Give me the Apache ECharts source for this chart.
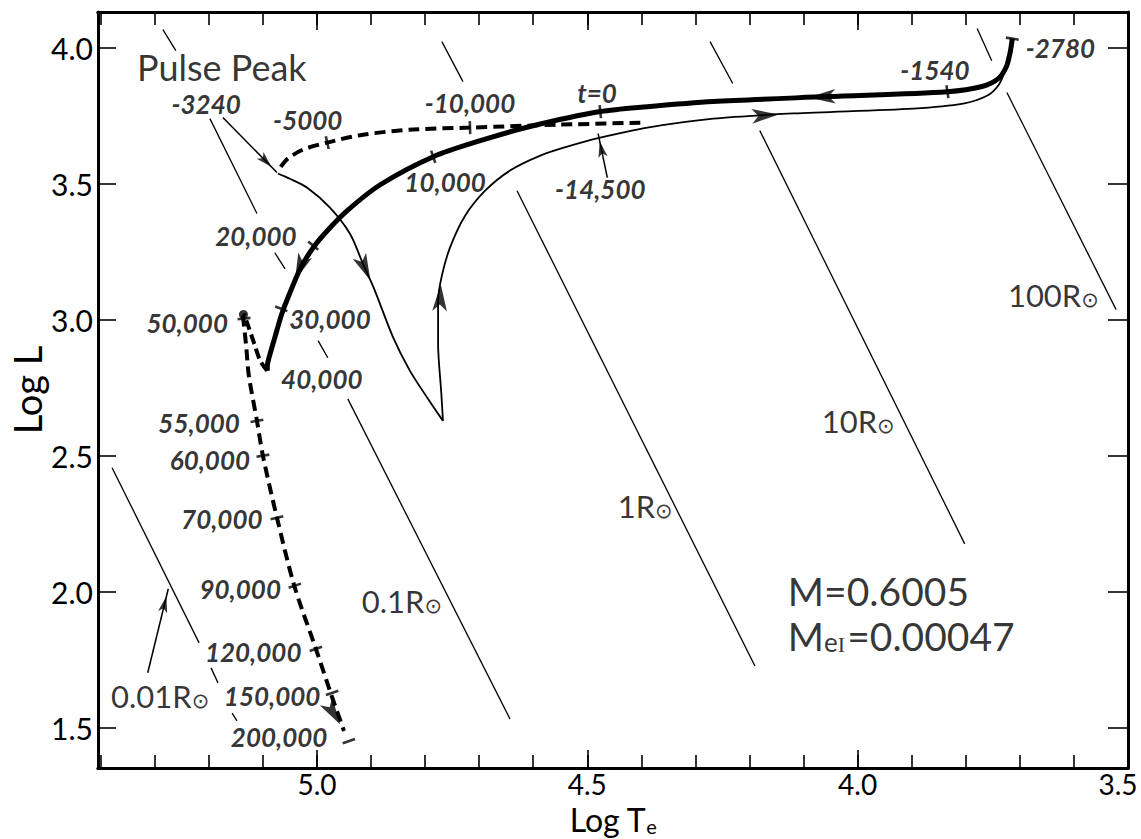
<!DOCTYPE html>
<html>
<head>
<meta charset="utf-8">
<script src="https://cdn.jsdelivr.net/npm/echarts@6/dist/echarts.min.js"></script>
<style>html,body{margin:0;padding:0;background:#fff}#c{width:1141px;height:839px}</style>
</head>
<body>
<div id="c"></div>
<script>
// ---------- axis ticks ----------
const xMinorTickValues = [3.5,3.6,3.7,3.8,3.9,4.0,4.1,4.2,4.3,4.4,4.5,4.6,4.7,4.8,4.9,5.0,5.1,5.2,5.3,5.4];
const xMajorTickValues = [3.5,4.0,4.5,5.0];
const yTickValues = [1.5,2.0,2.5,3.0,3.5,4.0];

// ---------- constant-radius lines (segments, [logTe, logL]) ----------
const radius001 = [[[5.379,2.457],[5.218,1.813]],[[5.196,1.721],[5.183,1.666]],[[5.157,1.555],[5.148,1.526]]];
const radius01  = [[[5.285,4.067],[5.261,3.990]],[[5.198,3.740],[5.111,3.391]],[[5.078,3.247],[5.059,3.188]],[[4.998,2.924],[4.980,2.861]],[[4.943,2.710],[4.643,1.533]]];
const radius1   = [[[4.769,4.023],[4.730,3.876]],[[4.630,3.475],[4.190,1.728]]];
const radius10  = [[[4.273,4.023],[4.231,3.869]],[[4.181,3.696],[3.802,2.177]]];
const radius100 = [[[3.779,4.071],[3.752,3.953]],[[3.724,3.836],[3.522,3.038]]];

// ---------- evolutionary tracks ----------
const thinDescent = [[5.072,3.538],[5.050,3.519],[5.018,3.486],[4.976,3.413],[4.939,3.317],[4.915,3.207],[4.893,3.108],[4.859,2.935],[4.828,2.813],[4.796,2.714],[4.767,2.629]];
const thinAscent = [[4.767,2.629],[4.770,2.729],[4.776,2.913],[4.776,3.071],[4.769,3.163],[4.754,3.266],[4.726,3.383],[4.689,3.475],[4.643,3.549],[4.587,3.604],[4.537,3.637],[4.476,3.670],[4.389,3.707],[4.267,3.740],[4.119,3.759],[3.897,3.777],[3.805,3.795],[3.760,3.825],[3.740,3.862],[3.729,3.909],[3.722,3.972]];
const thickTrack = [[3.714,4.034],[3.718,3.983],[3.725,3.931],[3.740,3.887],[3.770,3.858],[3.834,3.839],[4.056,3.821],[4.267,3.803],[4.389,3.784],[4.476,3.766],[4.606,3.711],[4.698,3.659],[4.785,3.600],[4.883,3.497],[4.944,3.402],[4.981,3.328],[5.007,3.266],[5.031,3.188],[5.050,3.100],[5.065,3.023],[5.078,2.935],[5.091,2.843],[5.092,2.813]];
const dashedApproach = [[4.402,3.725],[4.550,3.718],[4.717,3.707],[4.822,3.700],[4.915,3.681],[4.981,3.652],[5.026,3.626],[5.054,3.593],[5.068,3.560]];
const dashedLoop = [[5.092,2.813],[5.105,2.850],[5.116,2.913],[5.126,2.971],[5.135,3.023]];
const dashedDescent = [[5.137,3.016],[5.131,2.905],[5.126,2.795],[5.111,2.629],[5.100,2.501],[5.074,2.273],[5.042,2.023],[5.002,1.791],[4.974,1.625],[4.950,1.489]];
const loopPoint = [[5.136,3.020]];

// ---------- time ticks on tracks ----------
const approachTicks = [[4.981,3.652],[4.717,3.707]];
const thickTicks = [[3.714,4.034],[3.834,3.839],[4.476,3.766],[4.785,3.600],[5.007,3.273],[5.066,3.041]];
const descentTicks = [[5.135,3.005],[5.111,2.629],[5.100,2.501],[5.074,2.273],[5.041,2.023],[5.002,1.791],[4.972,1.629],[4.941,1.452]];

// ---------- direction arrows [from, tip] ----------
const thinArrows = [[[4.926,3.255],[4.891,3.100]],[[4.774,2.997],[4.770,3.181]],[[4.177,3.751],[4.121,3.759]]];
const thickArrows = [[[4.056,3.821],[4.116,3.816]],[[5.026,3.218],[5.050,3.100]]];
const dashedArrows = [[[4.970,1.555],[4.944,1.471]]];
const pointerArrows = [[[5.174,3.744],[5.074,3.542]],[[4.463,3.523],[4.480,3.685]],[[5.313,1.703],[5.275,2.012]]];

// ---------- labels ----------
const timeLabels = [
  ['-3240',5.205,3.795],['-5000',5.017,3.736],['-10,000',4.717,3.799],['t=0',4.482,3.836],
  ['10,000',4.763,3.508],['-14,500',4.476,3.483],['-1540',3.857,3.917],['-2780',3.625,4.001],
  ['20,000',5.113,3.310],['30,000',4.976,3.005],['40,000',4.991,2.784],['50,000',5.240,2.990],
  ['55,000',5.218,2.622],['60,000',5.198,2.486],['70,000',5.176,2.269],['90,000',5.142,2.012],
  ['120,000',5.118,1.780],['150,000',5.083,1.618],['200,000',5.070,1.467]
];
const radiusLabels = [['0.01',5.290,1.618],['0.1',4.843,1.967],['1',4.393,2.317],['10',3.999,2.629],['100',3.638,3.093]];
const titleLabels = [['Pulse Peak',5.176,3.928]];
const massLabels = [['M','','','=0.6005',4.130,2.004],['M','e','I','=0.00047',4.130,1.839]];

const FONT = 'Lato';
const X_MIN = 3.5, X_MAX = 5.405, Y_MIN = 1.353, Y_MAX = 4.132;

const chart = echarts.init(document.getElementById('c'), null, {renderer: 'svg', width: 1141, height: 839});

function xAxis(position, ticks, len, labels) {
  const ax = {
    type: 'value', position: position, min: X_MIN, max: X_MAX, inverse: true,
    axisLine: {show: true, onZero: false, lineStyle: {color: '#000', width: 3}},
    axisTick: {show: true, inside: true, length: len, customValues: ticks, lineStyle: {color: '#000', width: 1.6}},
    axisLabel: {show: false},
    splitLine: {show: false}
  };
  if (labels) {
    ax.axisLabel = {
      show: true, customValues: xMajorTickValues, margin: 2,
      fontFamily: FONT, fontSize: 28, lineHeight: 28, color: '#000',
      formatter: v => v === 3.5 ? '{e|' + v.toFixed(1) + '}' : v.toFixed(1),
      rich: {e: {fontFamily: FONT, fontSize: 28, lineHeight: 28, color: '#000', padding: [0, 20, 0, 0]}}
    };
    ax.name = '{a|Log T}{b|e}';
    ax.nameLocation = 'middle';
    ax.nameGap = 35.5;
    ax.nameMoveOverlap = false;
    ax.nameTextStyle = {
      rich: {
        a: {fontFamily: FONT, fontSize: 32, lineHeight: 32, color: '#000'},
        b: {fontFamily: FONT, fontSize: 20, lineHeight: 16, color: '#000', verticalAlign: 'bottom'}
      }
    };
  }
  return ax;
}
function yAxis(position, len, labels) {
  const ax = {
    type: 'value', position: position, min: Y_MIN, max: Y_MAX,
    axisLine: {show: true, onZero: false, lineStyle: {color: '#000', width: 3}},
    axisTick: {show: true, inside: true, length: len, customValues: yTickValues, lineStyle: {color: '#000', width: 1.6}},
    axisLabel: {show: false},
    splitLine: {show: false}
  };
  if (labels) {
    ax.axisLabel = {show: true, customValues: yTickValues, margin: 5, fontFamily: FONT, fontSize: 30, color: '#000', formatter: v => v.toFixed(1)};
    ax.name = 'Log L';
    ax.nameLocation = 'middle';
    ax.nameGap = 55;
    ax.nameMoveOverlap = false;
    ax.nameTextStyle = {fontFamily: FONT, fontSize: 38, lineHeight: 32, color: '#000'};
  }
  return ax;
}

function lineSeries(data, width, opts) {
  return Object.assign({
    type: 'line', data: data, symbol: 'none', silent: true, animation: false,
    lineStyle: {color: '#000', width: width, cap: 'butt'}, z: 3
  }, opts || {});
}

function buildSeries(decor) {
  const s = [];
  [radius001, radius01, radius1, radius10, radius100].forEach(r => r.forEach(seg => s.push(lineSeries(seg, 1.3, {z: 2}))));
  s.push(lineSeries(thinDescent, 1.8, {smooth: 0.3}));
  s.push(lineSeries(thinAscent, 1.8, {smooth: 0.3}));
  s.push(lineSeries(thickTrack, 5, {smooth: 0.3, z: 4}));
  s.push(lineSeries(dashedApproach, 4, {smooth: 0.3, lineStyle: {color: '#000', width: 4, type: [11, 6], cap: 'butt'}}));
  s.push(lineSeries(dashedLoop, 4, {smooth: 0.3, lineStyle: {color: '#000', width: 4, type: [10, 5], cap: 'butt'}}));
  s.push(lineSeries(dashedDescent, 4, {smooth: 0.3, lineStyle: {color: '#000', width: 4, type: [11, 6], cap: 'butt'}}));
  pointerArrows.forEach(a => s.push(lineSeries(a, 1.5)));
  s.push({type: 'scatter', data: loopPoint, symbol: 'circle', symbolSize: 9, itemStyle: {color: '#000'}, silent: true, z: 5});
  // ticks and arrowheads
  s.push({type: 'scatter', data: decor.ticks, symbol: 'rect', symbolSize: [2.6, 13], itemStyle: {color: '#000'}, silent: true, z: 5});
  s.push({type: 'scatter', data: decor.bigArrows, symbol: 'arrow', symbolSize: [11, 27], itemStyle: {color: '#000'}, silent: true, z: 6});
  s.push({type: 'scatter', data: decor.smallArrows, symbol: 'arrow', symbolSize: [7, 16], itemStyle: {color: '#000'}, silent: true, z: 6});
  // labels
  const hidden = {color: 'rgba(0,0,0,0)'};
  s.push({type: 'scatter', silent: true, symbolSize: 1, itemStyle: hidden, z: 10,
    data: timeLabels.map(d => ({value: [d[1], d[2]], name: d[0]})),
    label: {show: true, position: 'inside', formatter: '{b}', fontFamily: FONT, fontStyle: 'italic', fontWeight: 'bold', fontSize: 26, lineHeight: 25, color: '#000'}});
  s.push({type: 'scatter', silent: true, symbolSize: 1, itemStyle: hidden, z: 10,
    data: titleLabels.map(d => ({value: [d[1], d[2]], name: d[0]})),
    label: {show: true, position: 'inside', formatter: '{b}', fontFamily: FONT, fontSize: 36, lineHeight: 32, color: '#000'}});
  s.push({type: 'scatter', silent: true, symbolSize: 1, itemStyle: hidden, z: 10,
    data: radiusLabels.map(d => ({value: [d[1], d[2]], name: d[0]})),
    label: {show: true, position: 'inside', formatter: p => '{n|' + p.name + '}{r|R}{s|\u2299}',
      rich: {
        n: {fontFamily: FONT, fontSize: 31, color: '#000'},
        r: {fontFamily: FONT, fontSize: 31, color: '#000'},
        s: {fontFamily: 'DejaVu Sans', fontSize: 21, color: '#000', verticalAlign: 'bottom'}
      }}});
  s.push({type: 'scatter', silent: true, symbolSize: 1, itemStyle: hidden, z: 10,
    data: massLabels.map(d => ({value: [d[4], d[5]], name: d[0] + d[1] + d[2] + d[3]})),
    label: {show: true, position: 'right', distance: 0, align: 'left',
      formatter: p => {
        const d = massLabels[p.dataIndex];
        return '{m|' + d[0] + '}' + (d[1] ? '{s|' + d[1] + '}{si|' + d[2] + '}' : '') + '{m|' + d[3] + '}';
      },
      rich: {
        m: {fontFamily: FONT, fontSize: 39, color: '#000'},
        s: {fontFamily: FONT, fontSize: 26, color: '#000', verticalAlign: 'bottom'},
        si: {fontFamily: 'Liberation Serif', fontSize: 22, color: '#000', verticalAlign: 'bottom', padding: [0, 2, 0, 0]}
      }}});
  return s;
}

function buildOption(decor) {
  return {
    animation: false,
    backgroundColor: '#fff',
    grid: {left: 98, right: 13, top: 12, bottom: 71, containLabel: false, outerBoundsMode: 'none'},
    xAxis: [
      xAxis('bottom', xMinorTickValues, 13, true),
      xAxis('bottom', xMajorTickValues, 18, false),
      xAxis('top', xMinorTickValues, 13, false),
      xAxis('top', xMajorTickValues, 18, false)
    ],
    yAxis: [yAxis('left', 18, true), yAxis('right', 20, false)],
    series: buildSeries(decor)
  };
}

chart.setOption(buildOption({ticks: [], bigArrows: [], smallArrows: []}));

const finder = {xAxisIndex: 0, yAxisIndex: 0};
const toPx = p => chart.convertToPixel(finder, p);
const toData = p => chart.convertFromPixel(finder, p);

function arrowItems(list, h) {
  return list.map(pair => {
    const pa = toPx(pair[0]), pb = toPx(pair[1]);
    const dx = pb[0] - pa[0], dy = pb[1] - pa[1], len = Math.hypot(dx, dy);
    const ux = dx / len, uy = dy / len;
    const c = toData([pb[0] - ux * h / 2, pb[1] - uy * h / 2]);
    return {value: c, symbolRotate: Math.atan2(-dy, dx) * 180 / Math.PI - 90};
  });
}
function tickItems(ticks, track) {
  const tp = track.map(toPx);
  return ticks.map(t => {
    const p = toPx(t);
    let best = [1, 0], bd = Infinity;
    for (let i = 0; i < tp.length - 1; i++) {
      const a = tp[i], b = tp[i + 1];
      const vx = b[0] - a[0], vy = b[1] - a[1];
      const L2 = vx * vx + vy * vy;
      let u = ((p[0] - a[0]) * vx + (p[1] - a[1]) * vy) / L2;
      u = Math.max(0, Math.min(1, u));
      const qx = a[0] + u * vx - p[0], qy = a[1] + u * vy - p[1];
      const d = qx * qx + qy * qy;
      if (d < bd) { bd = d; best = [vx, vy]; }
    }
    return {value: t, symbolRotate: Math.atan2(-best[1], best[0]) * 180 / Math.PI};
  });
}

const decor = {
  ticks: [].concat(tickItems(approachTicks, dashedApproach), tickItems(thickTicks, thickTrack), tickItems(descentTicks, dashedDescent)),
  bigArrows: [].concat(arrowItems(thinArrows, 27), arrowItems(thickArrows, 27), arrowItems(dashedArrows, 27)),
  smallArrows: arrowItems(pointerArrows, 16)
};
chart.setOption(buildOption(decor), true);
</script>
</body>
</html>
